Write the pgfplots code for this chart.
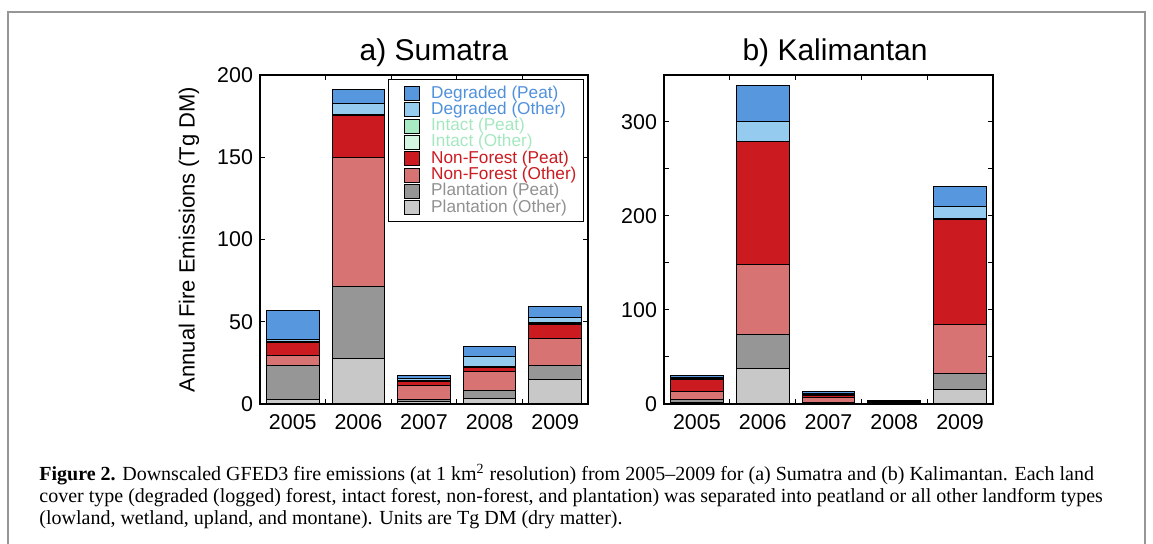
\documentclass[border=0pt]{standalone}
\usepackage{pgfplots}
\usepackage{pgfplotstable}
\pgfplotsset{compat=1.18}
\usepackage{fontspec}
\setmainfont{Liberation Sans}
\newfontfamily\capfont{Liberation Serif}

\definecolor{degpeat}{RGB}{86,151,222}
\definecolor{degother}{RGB}{150,203,240}
\definecolor{intpeat}{RGB}{168,234,196}
\definecolor{intother}{RGB}{212,245,225}
\definecolor{nfpeat}{RGB}{204,27,32}
\definecolor{nfother}{RGB}{215,115,115}
\definecolor{plpeat}{RGB}{150,150,150}
\definecolor{plother}{RGB}{200,200,200}
\definecolor{degtxt}{RGB}{80,145,220}
\definecolor{inttxt}{RGB}{165,232,192}
\definecolor{nftxt}{RGB}{204,27,32}
\definecolor{pltxt}{RGB}{145,145,145}
\definecolor{framegray}{RGB}{150,150,150}

\pgfplotstableread{
x   PO    PP    NFO   NFP   IO   IP   DO   DP
0.5 2.5   20.7  6.0   8.0   0.5  0.3  1.2  17.5
1.5 27.6  44.1  78.0  25.4  0.3  0.3  6.7  8.5
2.5 1.5   1.5   8.3   2.3   0.3  0.3  1.0  2.2
3.5 3.4   5.1   11.4  2.0   0.3  0.3  6.1  6.5
4.5 14.6  8.9   16.4  8.7   0.4  0.4  2.9  6.7
}\sumatra

\pgfplotstableread{
x   PO    PP    NFO   NFP    IO   IP   DO   DP
0.5 1.5   3.0   9.0   13.0   0.3  0.3  1.5  1.5
1.5 37.9  36.2  74.5  130.5  0.3  0.3  21.0 38.3
2.5 0.7   1.4   4.6   2.5    0.3  0.3  1.5  2.2
3.5 0.5   0.5   0.5   0.5    0.3  0.3  0.5  0.5
4.5 14.9  17.7  52.2  112.0  0.3  0.3  12.5 22.0
}\kalimantan

\pgfplotsset{
  emis/.style={
    scale only axis,
    ymin=0, xmin=0, xmax=5,
    ybar stacked, bar width=0.8,
    axis line style={line width=1pt},
    tick style={black, line width=0.5pt},
    major tick length=2.5pt, minor tick length=2.5pt,
    xtick={0.5,1.5,2.5,3.5,4.5},
    xticklabels={2005,2006,2007,2008,2009},
    major x tick style={draw=none},
    minor xtick={1,2,3,4},
    tick label style={font=\fontsize{10.7}{12}\selectfont},
    xticklabel style={yshift=-2pt},
    /pgf/number format/assume math mode=true,
    area legend,
    every axis plot/.append style={draw=black, line width=0.5pt},
  },
}

\begin{document}
\begin{tikzpicture}
\useasboundingbox (0,0) rectangle (576.5pt,272pt);
\fill[white] (0,0) rectangle (576.5pt,272pt);
\draw[framegray, line width=1pt] (4pt,-3pt) -- (4pt,266pt) -- (572.5pt,266pt) -- (572.5pt,-3pt);

\begin{axis}[emis,
  at={(130pt,70pt)}, anchor=south west,
  width=164pt, height=164.5pt,
  ymax=200, ytick={0,50,100,150,200},
  title={a) Sumatra},
  every axis title/.style={at={(axis description cs:0.53,1)}, anchor=base, yshift=7pt, font=\fontsize{15}{18}\selectfont},
  ylabel={Annual Fire Emissions (Tg DM)},
  every axis y label/.style={at={(axis description cs:-0.2165,0.5)}, rotate=90, anchor=center, font=\fontsize{11}{13}\selectfont},
  reverse legend,
  legend style={at={(1,1)}, anchor=north east, xshift=-2pt, yshift=-2pt,
    draw=black, line width=0.5pt, fill=white,
    font=\fontsize{8.6}{8.6}\selectfont,
    inner xsep=3.5pt, inner ysep=3pt, row sep=0pt, column sep=0pt,
    nodes={inner sep=0pt, text height=6.3pt, text depth=1.85pt},
    cells={anchor=west}},
  legend image code/.code={%
    \draw[#1, draw=black, line width=0.5pt] (0pt,-3.5pt) rectangle (7.5pt,3.5pt);
    \path[draw=none, fill=none] (-4.5pt,0pt) rectangle (13.5pt,0pt);},
]
\addplot[fill=plother]  table[x=x,y=PO]  {\sumatra};
\addlegendentry{\textcolor{pltxt}{Plantation (Other)}}
\addplot[fill=plpeat]   table[x=x,y=PP]  {\sumatra};
\addlegendentry{\textcolor{pltxt}{Plantation (Peat)}}
\addplot[fill=nfother]  table[x=x,y=NFO] {\sumatra};
\addlegendentry{\textcolor{nftxt}{Non-Forest (Other)}}
\addplot[fill=nfpeat]   table[x=x,y=NFP] {\sumatra};
\addlegendentry{\textcolor{nftxt}{Non-Forest (Peat)}}
\addplot[fill=intother] table[x=x,y=IO]  {\sumatra};
\addlegendentry{\textcolor{inttxt}{Intact (Other)}}
\addplot[fill=intpeat]  table[x=x,y=IP]  {\sumatra};
\addlegendentry{\textcolor{inttxt}{Intact (Peat)}}
\addplot[fill=degother] table[x=x,y=DO]  {\sumatra};
\addlegendentry{\textcolor{degtxt}{Degraded (Other)}}
\addplot[fill=degpeat]  table[x=x,y=DP]  {\sumatra};
\addlegendentry{\textcolor{degtxt}{Degraded (Peat)}}
\end{axis}

\begin{axis}[emis,
  at={(332pt,70pt)}, anchor=south west,
  width=164.5pt, height=164.5pt,
  ymax=350, ytick={0,100,200,300}, minor ytick={50,150,250},
  title={b) Kalimantan},
  every axis title/.style={at={(axis description cs:0.52,1)}, anchor=base, yshift=7pt, font=\fontsize{15}{18}\selectfont},
]
\addplot[fill=plother]  table[x=x,y=PO]  {\kalimantan};
\addplot[fill=plpeat]   table[x=x,y=PP]  {\kalimantan};
\addplot[fill=nfother]  table[x=x,y=NFO] {\kalimantan};
\addplot[fill=nfpeat]   table[x=x,y=NFP] {\kalimantan};
\addplot[fill=intother] table[x=x,y=IO]  {\kalimantan};
\addplot[fill=intpeat]  table[x=x,y=IP]  {\kalimantan};
\addplot[fill=degother] table[x=x,y=DO]  {\kalimantan};
\addplot[fill=degpeat]  table[x=x,y=DP]  {\kalimantan};
\end{axis}

\begin{scope}[every node/.style={anchor=base west, inner sep=0pt, font=\capfont\fontsize{10}{11}\selectfont}]
\node at (19.5pt,31.5pt) {\textbf{Figure 2.} Downscaled GFED3 fire emissions (at 1 km\textsuperscript{2} resolution) from 2005–2009 for (a) Sumatra and (b) Kalimantan. Each land};
\node at (19.5pt,20.5pt) {cover type (degraded (logged) forest, intact forest, non-forest, and plantation) was separated into peatland or all other landform types};
\node at (19.5pt,9.5pt) {(lowland, wetland, upland, and montane). Units are Tg DM (dry matter).};
\end{scope}
\end{tikzpicture}
\end{document}
